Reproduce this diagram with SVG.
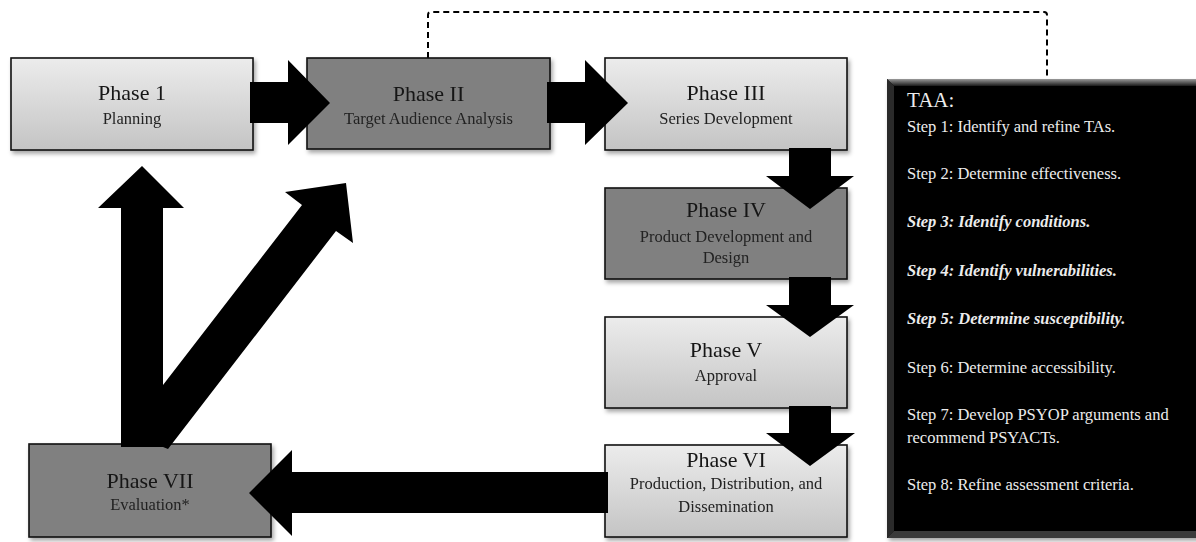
<svg xmlns="http://www.w3.org/2000/svg" width="1196" height="542" viewBox="0 0 1196 542">
  <style>
    .box { stroke: #111; stroke-width: 1.6; }
    .light { fill: url(#lightFill); }
    .dark { fill: #808080; }
    .title { font-family: "Liberation Serif", "DejaVu Serif", serif; font-size: 22px; fill: #151515; text-anchor: middle; }
    .sub { font-family: "Liberation Serif", "DejaVu Serif", serif; font-size: 16.5px; fill: #222; text-anchor: middle; }
    .arrow { fill: #000; }
    .taa { font-family: "Liberation Serif", "DejaVu Serif", serif; font-size: 16.5px; fill: #ececec; }
    .taa-head { font-size: 21px; }
    .em { font-weight: bold; font-style: italic; }
  </style>
  <defs>
    <linearGradient id="lightFill" x1="0" y1="0" x2="0" y2="1">
      <stop offset="0" stop-color="#ececec"/>
      <stop offset="1" stop-color="#c4c4c4"/>
    </linearGradient>
    <linearGradient id="bevelTop" x1="0" y1="0" x2="0" y2="1">
      <stop offset="0" stop-color="#9a9a9a"/>
      <stop offset="1" stop-color="#1a1a1a"/>
    </linearGradient>
    <filter id="shadow" x="-10%" y="-10%" width="125%" height="130%">
      <feDropShadow dx="2" dy="3" stdDeviation="2" flood-color="#000" flood-opacity="0.35"/>
    </filter>
  </defs>

  <!-- dashed link from Phase II to the TAA panel -->
  <g id="taa-link">
    <path d="M428 58 V15 Q428 12 431 12 H1044 Q1047 12 1047 15 V79" fill="none" stroke="#000" stroke-width="2" stroke-dasharray="6 4"/>
  </g>

  <!-- phase nodes -->
  <g id="phase1" filter="url(#shadow)">
    <rect class="box light" x="11" y="58" width="242" height="92"/>
    <text class="title" x="132" y="100">Phase 1</text>
    <text class="sub" x="132" y="124">Planning</text>
  </g>
  <g id="phase2" filter="url(#shadow)">
    <rect class="box dark" x="307" y="58" width="243" height="91"/>
    <text class="title" x="428.5" y="101">Phase II</text>
    <text class="sub" x="428.5" y="124">Target Audience Analysis</text>
  </g>
  <g id="phase3" filter="url(#shadow)">
    <rect class="box light" x="605" y="58" width="242" height="92"/>
    <text class="title" x="726" y="100">Phase III</text>
    <text class="sub" x="726" y="124">Series Development</text>
  </g>
  <g id="phase4" filter="url(#shadow)">
    <rect class="box dark" x="605" y="188" width="242" height="91"/>
    <text class="title" x="726" y="217">Phase IV</text>
    <text class="sub" x="726" y="242">Product Development and</text>
    <text class="sub" x="726" y="263">Design</text>
  </g>
  <g id="phase5" filter="url(#shadow)">
    <rect class="box light" x="605" y="317" width="242" height="91"/>
    <text class="title" x="726" y="357">Phase V</text>
    <text class="sub" x="726" y="381">Approval</text>
  </g>
  <g id="phase6" filter="url(#shadow)">
    <rect class="box light" x="605" y="445" width="242" height="92"/>
    <text class="title" x="726" y="467">Phase VI</text>
    <text class="sub" x="726" y="489">Production, Distribution, and</text>
    <text class="sub" x="726" y="512">Dissemination</text>
  </g>
  <g id="phase7" filter="url(#shadow)">
    <rect class="box dark" x="29" y="444" width="242" height="93"/>
    <text class="title" x="150" y="488">Phase VII</text>
    <text class="sub" x="150" y="510">Evaluation*</text>
  </g>

  <!-- TAA step panel -->
  <g id="taa-panel">
    <rect x="887" y="79" width="312" height="459" fill="#050505" filter="url(#shadow)"/>
    <polygon points="887,79 1199,79 1199,86 894,86" fill="url(#bevelTop)"/>
    <polygon points="887,79 894,86 894,531 887,538" fill="#2a2a2a"/>
    <polygon points="887,538 894,531 1199,531 1199,538" fill="#3a3a3a"/>
    <text class="taa taa-head" x="907" y="107">TAA:</text>
    <text class="taa" x="907" y="132">Step 1: Identify and refine TAs.</text>
    <text class="taa" x="907" y="179">Step 2: Determine effectiveness.</text>
    <text class="taa em" x="907" y="227">Step 3: Identify conditions.</text>
    <text class="taa em" x="907" y="276">Step 4: Identify vulnerabilities.</text>
    <text class="taa em" x="907" y="324">Step 5: Determine susceptibility.</text>
    <text class="taa" x="907" y="373">Step 6: Determine accessibility.</text>
    <text class="taa" x="907" y="420">Step 7: Develop PSYOP arguments and</text>
    <text class="taa" x="907" y="443">recommend PSYACTs.</text>
    <text class="taa" x="907" y="490">Step 8: Refine assessment criteria.</text>
  </g>

  <!-- block arrows between phases -->
  <g id="connectors">
    <polygon class="arrow" points="250,82 288,82 288,60 330,103 288,145 288,123 250,123"/>
    <polygon class="arrow" points="547,82 585,82 585,60 628,103 585,145 585,123 547,123"/>
    <polygon class="arrow" points="789,148 831,148 831,176 854,176 810,209 766,176 789,176"/>
    <polygon class="arrow" points="789,277 831,277 831,305 854,305 810,337 766,305 789,305"/>
    <polygon class="arrow" points="789,406 831,406 831,433 855,433 810,466 766,433 789,433"/>
    <polygon class="arrow" points="608,472 292,472 292,450 249,493 292,536 292,513 608,513"/>
    <polygon class="arrow" points="121,447 121,208 98,208 142,166 184,208 163,208 163,447"/>
    <polygon class="arrow" points="163,447 163,385 302,205 285,192 346,183 353,243 336,231 168,449"/>
  </g>
</svg>
